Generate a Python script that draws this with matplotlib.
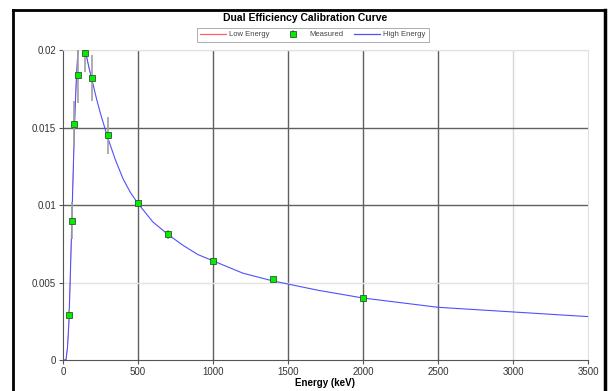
import matplotlib
matplotlib.use('Agg')
import matplotlib.pyplot as plt
from matplotlib.lines import Line2D

plt.rcParams['font.family'] = ['Liberation Sans', 'DejaVu Sans']

# Measured calibration points (keV, efficiency, uncertainty)
meas_energy = [42, 58, 75, 98, 149, 195, 298, 500, 700, 1000, 1400, 2000]
meas_eff = [0.0029, 0.0090, 0.0152, 0.0184, 0.0198, 0.0182, 0.0145, 0.0101, 0.0081, 0.0064, 0.0052, 0.0040]
meas_err = [0.0004, 0.0012, 0.0015, 0.0018, 0.0012, 0.0015, 0.0012, 0.0002, 0.0003, 0.0002, 0.0001, 0.0001]

# Fitted curves
low_energy = [0, 20, 30, 40, 50, 60, 70, 80, 90, 100, 110, 120, 130, 140, 150, 175, 200]
low_eff = [0.0, 0.0, 0.0008, 0.0025, 0.0058, 0.0093, 0.0128, 0.0160, 0.0183, 0.0200,
           0.0210, 0.0214, 0.0213, 0.0207, 0.0199, 0.0188, 0.0178]
high_energy = [0, 20, 30, 40, 50, 60, 70, 80, 90, 100, 110, 120, 130, 140, 150, 175, 200,
               225, 250, 300, 350, 400, 450, 500, 550, 600, 650, 700, 800, 900, 1000,
               1100, 1200, 1400, 1700, 2000, 2500, 3000, 3500]
high_eff = [0.0, 0.0, 0.0008, 0.0025, 0.0058, 0.0093, 0.0128, 0.0160, 0.0183, 0.0200,
            0.0210, 0.0214, 0.0213, 0.0207, 0.0199, 0.0188, 0.0178,
            0.0168, 0.0159, 0.0143, 0.0129, 0.0117, 0.0108, 0.0101, 0.0095, 0.0089,
            0.0085, 0.0081, 0.0074, 0.0068, 0.0064, 0.0060, 0.0056, 0.0051, 0.0045,
            0.0040, 0.0034, 0.0031, 0.0028]

x_ticks = [0, 500, 1000, 1500, 2000, 2500, 3000, 3500]
y_ticks = [0, 0.005, 0.01, 0.015, 0.02]
y_labels = ['0', '0.005', '0.01', '0.015', '0.02']

fig = plt.figure(figsize=(6.12, 3.91), dpi=100)
ax = fig.add_axes([0.1029, 0.0793, 0.8579, 0.7927])

# grid: some lines dark, some light (as in the reference)
for x in x_ticks[1:-1]:
    c = '#d8d8d8' if x == 3000 else '#606060'
    ax.axvline(x, color=c, lw=1.0, zorder=1)
for y in y_ticks[1:]:
    c = '#606060' if y in (0.01, 0.015) else '#e4e4e4'
    ax.axhline(y, color=c, lw=1.0, zorder=1)

# low energy curve sits under the high energy one
ax.plot(low_energy, low_eff, color='#ff6060', lw=0.4, zorder=2, label='Low Energy')
ax.errorbar(meas_energy, meas_eff, yerr=meas_err, fmt='s', color='#00ee00',
            markeredgecolor='#335533', markeredgewidth=0.6, markersize=4.5,
            ecolor='#a0a0a0', elinewidth=1.2, zorder=4, label='Measured')
ax.plot(high_energy, high_eff, color='#5050ff', lw=0.8, zorder=3, label='High Energy')

ax.set_xlim(0, 3500)
ax.set_ylim(0, 0.02)
ax.set_xticks(x_ticks)
ax.set_yticks(y_ticks)
ax.set_yticklabels(y_labels)
ax.tick_params(labelsize=7, length=3, color='#555555', labelcolor='#333333', pad=2)
ax.set_xlabel('Energy (keV)', fontsize=7, fontweight='bold', labelpad=1)

ax.spines['left'].set_color('#555555')
ax.spines['bottom'].set_color('#555555')
ax.spines['top'].set_color('#e0e0e0')
ax.spines['right'].set_color('#e0e0e0')

fig.text(0.498, 0.953, 'Dual Efficiency Calibration Curve', ha='center', va='center',
         fontsize=7.5, fontweight='bold')

handles, labels = ax.get_legend_handles_labels()
order = [labels.index(n) for n in ['Low Energy', 'Measured', 'High Energy']]
leg = fig.legend([handles[i] for i in order], [labels[i] for i in order],
                 loc='center', bbox_to_anchor=(0.511, 0.911), ncol=3, fontsize=5.5,
                 frameon=True, fancybox=False, edgecolor='#888888',
                 handlelength=3.4, columnspacing=1.4, borderpad=0.4, handletextpad=0.4,
                 labelcolor='#444444')
leg.get_frame().set_linewidth(0.6)
for h in leg.get_lines():
    h.set_linewidth(0.9)

# outer black frame
fig.add_artist(Line2D([13 / 612, 13 / 612], [0, 381 / 391], color='black', lw=2))
fig.add_artist(Line2D([13 / 612, 605 / 612], [381 / 391, 381 / 391], color='black', lw=2))
fig.add_artist(Line2D([605 / 612, 605 / 612], [0, 381 / 391], color='black', lw=2.5))

fig.savefig('out.png', dpi=100)
